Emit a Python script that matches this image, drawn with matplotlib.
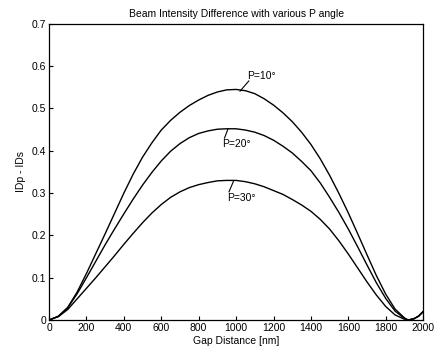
import numpy as np
import matplotlib

matplotlib.use("Agg")
import matplotlib.pyplot as plt

plt.rcParams["font.family"] = ["Liberation Sans", "DejaVu Sans"]

# ---------------------------------------------------------------------------
# Data (every 50 nm, plus the minimum near 1920)
# ---------------------------------------------------------------------------
GAP_NM = [0, 50, 100, 150, 200, 250, 300, 350, 400, 450, 500, 550, 600,
          650, 700, 750, 800, 850, 900, 950, 1000, 1050, 1100, 1150, 1200,
          1250, 1300, 1350, 1400, 1450, 1500, 1550, 1600, 1650, 1700, 1750,
          1800, 1850, 1900, 1920, 1950, 1975, 2000]

DIFF_P10 = [0.0, 0.009, 0.030, 0.066, 0.110, 0.157, 0.204, 0.252, 0.300,
            0.345, 0.385, 0.419, 0.449, 0.472, 0.491, 0.507, 0.520, 0.531,
            0.539, 0.544, 0.545, 0.542, 0.535, 0.523, 0.508, 0.490, 0.469,
            0.444, 0.415, 0.381, 0.342, 0.299, 0.253, 0.204, 0.154, 0.105,
            0.061, 0.026, 0.005, 0.0, 0.003, 0.009, 0.020]
DIFF_P20 = [0.0, 0.009, 0.029, 0.062, 0.100, 0.139, 0.178, 0.215, 0.251,
            0.286, 0.319, 0.349, 0.376, 0.399, 0.417, 0.431, 0.441, 0.447,
            0.451, 0.452, 0.452, 0.449, 0.444, 0.436, 0.425, 0.411, 0.395,
            0.375, 0.353, 0.324, 0.290, 0.254, 0.215, 0.173, 0.130, 0.088,
            0.051, 0.021, 0.004, 0.0, 0.003, 0.009, 0.020]
DIFF_P30 = [0.0, 0.008, 0.025, 0.050, 0.075, 0.100, 0.126, 0.152, 0.179,
            0.205, 0.230, 0.253, 0.273, 0.290, 0.303, 0.313, 0.320, 0.325,
            0.329, 0.330, 0.330, 0.327, 0.322, 0.315, 0.306, 0.297, 0.285,
            0.272, 0.257, 0.238, 0.215, 0.187, 0.156, 0.123, 0.090, 0.059,
            0.032, 0.012, 0.002, 0.0, 0.003, 0.009, 0.020]

LABELS = ["P=10°", "P=20°", "P=30°"]
# label anchor (x, y) and the short leader line from curve to label
LABEL_POS = [(1060, 0.577), (925, 0.417), (950, 0.288)]
LEADERS = [((1021, 0.541), (1068, 0.565)),
           ((957, 0.452), (938, 0.430)),
           ((986, 0.328), (962, 0.303))]

X_TICKS = list(range(0, 2001, 200))
Y_TICKS = [0, 0.1, 0.2, 0.3, 0.4, 0.5, 0.6, 0.7]

# ---------------------------------------------------------------------------
# Figure
# ---------------------------------------------------------------------------
fig = plt.figure(figsize=(4.34, 3.56), dpi=100)
ax = fig.add_axes([0.113, 0.101, 0.862, 0.832])

for series in (DIFF_P10, DIFF_P20, DIFF_P30):
    ax.plot(GAP_NM, series, color="black", lw=1.0)

for text, (tx, ty), (p0, p1) in zip(LABELS, LABEL_POS, LEADERS):
    ax.plot([p0[0], p1[0]], [p0[1], p1[1]], color="black", lw=0.8)
    ax.text(tx, ty, text, fontsize=7.5, ha="left", va="center")

ax.set_xlim(0, 2000)
ax.set_ylim(0, 0.7)
ax.set_xticks(X_TICKS)
ax.set_yticks(Y_TICKS)
ax.set_yticklabels(["0"] + [f"{v:.1f}" for v in Y_TICKS[1:]])
ax.tick_params(direction="in", length=3, width=0.8, labelsize=7.5, pad=2)

ax.set_title("Beam Intensity Difference with various P angle",
             fontsize=7.5, pad=5)
ax.set_xlabel("Gap Distance [nm]", fontsize=7.5, labelpad=2)
ax.set_ylabel("IDp - IDs", fontsize=7.5, labelpad=4)

for side in ax.spines.values():
    side.set_linewidth(0.9)

fig.savefig("out.png", dpi=100)
